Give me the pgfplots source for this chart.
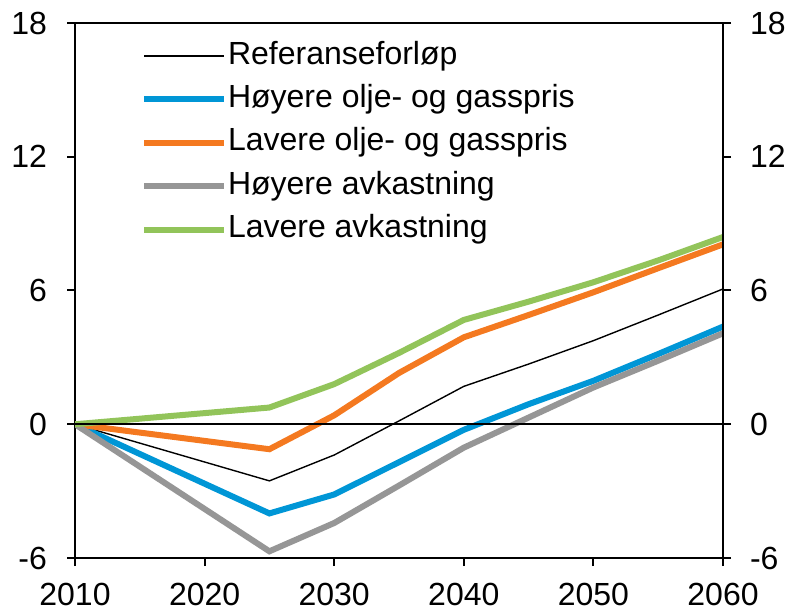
\documentclass[border=0pt]{standalone}
\usepackage{fontspec}
\setmainfont{Liberation Sans}
\usepackage{pgfplots}
\pgfplotsset{compat=1.18}
\definecolor{cblue}{RGB}{0,150,214}
\definecolor{corange}{RGB}{244,121,32}
\definecolor{cgrey}{RGB}{150,150,150}
\definecolor{cgreen}{RGB}{146,196,90}
\pgfplotsset{
  common/.style={
    at={(0,0)}, anchor=south west,
    scale only axis, width=324pt, height=267.5pt,
    xmin=2010, xmax=2060, ymin=-6, ymax=18,
    ytick={-6,0,6,12,18},
    tick align=outside, major tick length=4pt,
    axis line style={line width=1pt, black},
    tick style={line width=1pt, black},
    /pgf/number format/1000 sep={},
    /pgf/number format/assume math mode=true,
    tick label style={font=\fontsize{16}{19}\selectfont},
  }
}
\begin{document}
\begin{tikzpicture}
\useasboundingbox (-37.5pt,-26pt) rectangle (357.5pt,279pt);
\begin{axis}[common,
  xtick={2010,2020,2030,2040,2050,2060},
  xtick pos=bottom, ytick pos=left,
  xticklabel style={yshift=-5pt},
  yticklabel style={xshift=-6.5pt},
  legend style={at={(0.092,0.982)}, anchor=north west, draw=none, fill=none,
    font=\fontsize{16}{19}\selectfont, legend cell align=left, row sep=2.7pt,
    nodes={inner xsep=0.5pt, inner ysep=1.5pt, text height=12pt, text depth=4pt}},
  legend image code/.code={\draw[#1] (0pt,0pt) -- (40pt,0pt);},
]
\addplot[black, line width=0.7pt] coordinates {
(2010,0) (2025,-2.54) (2030,-1.38) (2035,0.15) (2040,1.7) (2045,2.7) (2050,3.75) (2055,4.9) (2060,6.07)};
\addlegendentry{Referanseforløp}
\addplot[cblue, line width=3pt] coordinates {
(2010,0) (2025,-4.0) (2030,-3.15) (2035,-1.7) (2040,-0.25) (2045,0.9) (2050,1.95) (2055,3.15) (2060,4.38)};
\addlegendentry{Høyere olje- og gasspris}
\addplot[corange, line width=3pt] coordinates {
(2010,0) (2025,-1.12) (2030,0.4) (2035,2.3) (2040,3.9) (2045,4.9) (2050,5.92) (2055,7.0) (2060,8.07)};
\addlegendentry{Lavere olje- og gasspris}
\addplot[cgrey, line width=3pt] coordinates {
(2010,0) (2025,-5.7) (2030,-4.43) (2035,-2.75) (2040,-1.05) (2045,0.3) (2050,1.65) (2055,2.85) (2060,4.08)};
\addlegendentry{Høyere avkastning}
\addplot[cgreen, line width=3pt] coordinates {
(2010,0) (2025,0.75) (2030,1.8) (2035,3.2) (2040,4.68) (2045,5.5) (2050,6.37) (2055,7.35) (2060,8.4)};
\addlegendentry{Lavere avkastning}
\draw[black, line width=1pt] (axis cs:2010,0) -- (axis cs:2060,0);
\end{axis}
\begin{axis}[common,
  axis x line=none, axis y line*=right,
  xtick=\empty,
  yticklabel style={xshift=6pt},
]
\end{axis}
\end{tikzpicture}
\end{document}
